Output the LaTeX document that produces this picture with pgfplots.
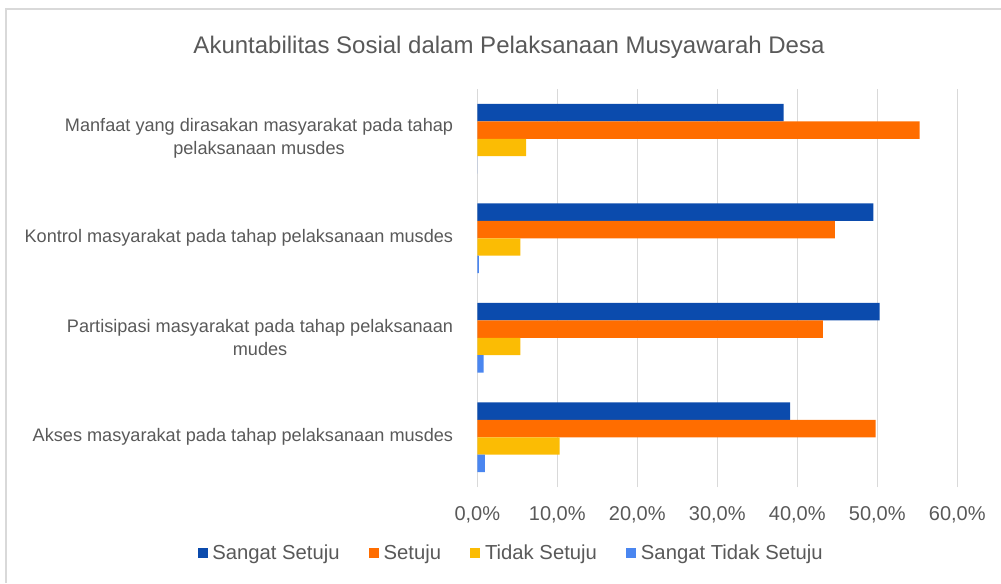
\documentclass[border=0pt]{standalone}
\usepackage{fontspec}
\setmainfont{Liberation Sans}
\usepackage{pgfplots}
\pgfplotsset{compat=1.18}
\definecolor{ss}{HTML}{0B4BAD}
\definecolor{st}{HTML}{FF6D00}
\definecolor{ts}{HTML}{FBBC04}
\definecolor{sts}{HTML}{4A86F0}
\definecolor{txt}{HTML}{595959}
\definecolor{grd}{HTML}{D9D9D9}
\pgfplotsset{sq/.style={legend image code/.code={\fill[##1] (0pt,-3.75pt) rectangle (7.5pt,3.75pt);}}}
\begin{document}
\begin{tikzpicture}
\path[use as bounding box] (0,0) rectangle (750.75pt,437.25pt);
\draw[grd,line width=1.5pt] (4.5pt,0) -- (4.5pt,430.5pt) -- (750.75pt,430.5pt);
\node[text=txt,font=\fontsize{18}{22}\selectfont] at (381.75pt,402pt) {Akuntabilitas Sosial dalam Pelaksanaan Musyawarah Desa};
\begin{axis}[at={(357.975pt,72pt)},anchor=south west,scale only axis,
  width=360pt,height=298.5pt,xmin=0,xmax=60,ymin=-0.5,ymax=3.5,
  xbar,bar width=13.05pt,
  axis line style={draw=none},tick style={draw=none},
  xmajorgrids,grid style={grd,line width=1.1pt},
  xtick={0,10,20,30,40,50,60},
  xticklabels={{0,0\%},{10,0\%},{20,0\%},{30,0\%},{40,0\%},{50,0\%},{60,0\%}},
  xticklabel style={font=\fontsize{15}{18}\selectfont,text=txt,anchor=center,yshift=-21pt},
  ytick={0,1,2,3},
  yticklabels={{Akses masyarakat pada tahap pelaksanaan musdes},
    {Partisipasi masyarakat pada tahap pelaksanaan\\mudes},
    {Kontrol masyarakat pada tahap pelaksanaan musdes},
    {Manfaat yang dirasakan masyarakat pada tahap\\pelaksanaan musdes}},
  yticklabel style={align=center,font=\fontsize{13.6}{17.25}\selectfont,text=txt,anchor=east,inner sep=0pt,xshift=-13.7pt},
  legend columns=4,
  legend style={draw=none,at={(0.0713,-0.1658)},anchor=center,font=\fontsize{15.2}{18}\selectfont,text=txt,
    /tikz/every odd column/.append style={column sep=1.5pt},
    /tikz/every even column/.append style={column sep=20pt}},
]
\addplot[fill=ss,draw=none,bar shift=19.575pt,sq] coordinates {(39.1,0) (50.3,1) (49.5,2) (38.3,3)};
\addplot[fill=st,draw=none,bar shift=6.525pt,sq] coordinates {(49.8,0) (43.2,1) (44.7,2) (55.3,3)};
\addplot[fill=ts,draw=none,bar shift=-6.525pt,sq] coordinates {(10.3,0) (5.4,1) (5.4,2) (6.1,3)};
\addplot[fill=sts,draw=none,bar shift=-19.575pt,sq] coordinates {(0.96,0) (0.8,1) (0.2,2) (0,3)};
\legend{Sangat Setuju,Setuju,Tidak Setuju,Sangat Tidak Setuju}
\end{axis}
\end{tikzpicture}
\end{document}
